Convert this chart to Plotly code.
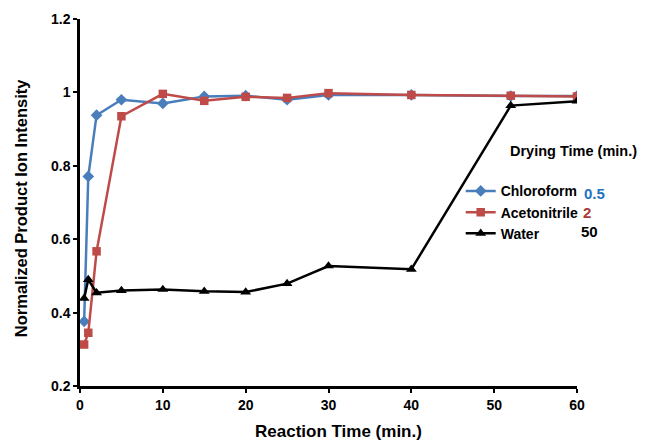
import plotly.graph_objects as go

# Data
reaction_time = [0.5, 1, 2, 5, 10, 15, 20, 25, 30, 40, 52, 60]
chloroform = [0.376, 0.771, 0.938, 0.980, 0.970, 0.989, 0.991, 0.980, 0.993, 0.993, 0.990, 0.990]
acetonitrile = [0.313, 0.345, 0.567, 0.935, 0.996, 0.977, 0.988, 0.985, 0.998, 0.993, 0.991, 0.989]
water = [0.439, 0.490, 0.454, 0.460, 0.463, 0.458, 0.456, 0.479, 0.527, 0.518, 0.964, 0.976]

series_names = ["Chloroform", "Acetonitrile", "Water"]
drying_times = ["0.5", "2", "50"]
x_ticks = [0, 10, 20, 30, 40, 50, 60]
y_ticks = [0.2, 0.4, 0.6, 0.8, 1.0, 1.2]
y_tick_text = ["0.2", "0.4", "0.6", "0.8", "1", "1.2"]

BLUE = "#4a7ebb"
RED = "#be4b48"
BLACK = "#000000"
FONT = "Liberation Sans"

fig = go.Figure()
fig.add_trace(go.Scatter(x=reaction_time, y=chloroform, name=series_names[0], mode="lines+markers",
                         line=dict(color=BLUE, width=2.5),
                         marker=dict(symbol="diamond", size=9, color=BLUE)))
fig.add_trace(go.Scatter(x=reaction_time, y=acetonitrile, name=series_names[1], mode="lines+markers",
                         line=dict(color=RED, width=2.5),
                         marker=dict(symbol="square", size=8.5, color=RED)))
fig.add_trace(go.Scatter(x=reaction_time, y=water, name=series_names[2], mode="lines+markers",
                         line=dict(color=BLACK, width=2.5),
                         marker=dict(symbol="triangle-up", size=9.5, color=BLACK)))

axis_common = dict(showline=True, linecolor="black", linewidth=2.5, ticks="outside",
                   tickcolor="black", tickwidth=2, ticklen=4, showgrid=False, zeroline=False,
                   automargin=False,
                   tickfont=dict(family=FONT, size=14, color="black", weight="bold"))

fig.update_xaxes(range=[0, 60], tickvals=x_ticks, **axis_common)
fig.update_yaxes(range=[0.2, 1.2], tickvals=y_ticks, ticktext=y_tick_text, **axis_common)

# The page body has an 8px margin, so the figure is 8px smaller than the window
PLOT_H = 366.7
fig.update_layout(
    width=640, height=432,
    margin=dict(l=72, r=71, t=11, b=432 - 11 - PLOT_H, autoexpand=False),
    paper_bgcolor="white", plot_bgcolor="white",
    showlegend=True,
    legend=dict(x=0.766, y=0.574, xanchor="left", yanchor="top",
                font=dict(family=FONT, size=14, color="black", weight="bold"),
                bgcolor="rgba(0,0,0,0)", itemwidth=30, tracegroupgap=0),
)

# Axis titles
fig.add_annotation(x=0.52, y=(385.7 - 431) / PLOT_H, xref="paper", yref="paper",
                   text="<b>Reaction Time (min.)</b>",
                   showarrow=False, font=dict(family=FONT, size=17, color="black"),
                   xanchor="center", yanchor="middle")
fig.add_annotation(x=(21 - 80) / 497, y=(385.7 - 208) / PLOT_H, xref="paper", yref="paper",
                   text="<b>Normalized Product Ion Intensity</b>", textangle=-90,
                   showarrow=False, font=dict(family=FONT, size=16.5, color="black"),
                   xanchor="center", yanchor="middle")

fig.add_annotation(x=0.862, y=0.641, xref="paper", yref="paper", xanchor="left", yanchor="middle",
                   text="<b>Drying Time (min.)</b>", showarrow=False,
                   font=dict(family=FONT, size=14.5, color="black"))
num_colors = ["#1f72c4", "#a83a36", "#000000"]
num_y = [0.525, 0.473, 0.420]
num_x = [1.0107, 1.0075, 1.0034]
for txt, col, xx, yy in zip(drying_times, num_colors, num_x, num_y):
    fig.add_annotation(x=xx, y=yy, xref="paper", yref="paper", xanchor="left", yanchor="middle",
                       text=f"<b>{txt}</b>", showarrow=False,
                       font=dict(family=FONT, size=15, color=col))

fig.write_html("out.html")
